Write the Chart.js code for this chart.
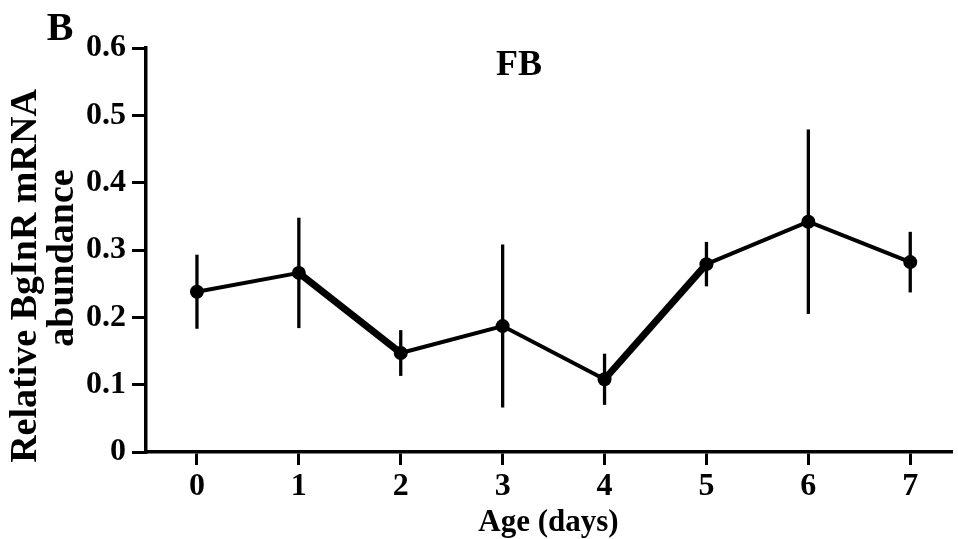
<!DOCTYPE html>
<html>
<head>
<meta charset="utf-8">
<script src="https://cdn.jsdelivr.net/npm/chart.js@4.4.1/dist/chart.umd.min.js"></script>
<style>
  body { margin: 0; background: #fff; }
  canvas { display: block; }
</style>
</head>
<body>
<canvas id="ageChart" width="958" height="539"></canvas>
<script>
const ages = [0, 1, 2, 3, 4, 5, 6, 7];
const abundance = [0.238, 0.266, 0.147, 0.187, 0.108, 0.279, 0.342, 0.282];
const sem = [0.055, 0.082, 0.034, 0.121, 0.038, 0.033, 0.137, 0.045];
const yTicks = [0, 0.1, 0.2, 0.3, 0.4, 0.5, 0.6];
const yTitleLines = ['Relative BgInR mRNA', 'abundance'];
const heavySegments = [1, 4]; // these two segments come out heavier in the figure

const serif = "'Liberation Serif', 'Times New Roman', serif";

// vertical SEM bars, no caps, drawn under the markers
const errorBars = {
  id: 'errorBars',
  beforeDatasetsDraw(chart) {
    const { ctx, scales: { x, y } } = chart;
    ctx.save();
    ctx.strokeStyle = '#000';
    ctx.lineWidth = 3.3;
    ages.forEach((age, i) => {
      const px = x.getPixelForValue(age);
      ctx.beginPath();
      ctx.moveTo(px, y.getPixelForValue(abundance[i] + sem[i]));
      ctx.lineTo(px, y.getPixelForValue(abundance[i] - sem[i]));
      ctx.stroke();
    });
    ctx.restore();
  }
};

// panel letter, tissue label and the two-line y title (second line sits a bit higher)
const panelText = {
  id: 'panelText',
  afterDraw(chart) {
    const { ctx } = chart;
    ctx.save();
    ctx.fillStyle = '#000';
    ctx.textAlign = 'center';
    ctx.textBaseline = 'middle';
    ctx.font = 'bold 40px ' + serif;
    ctx.fillText('B', 60, 30);
    ctx.font = 'bold 36px ' + serif;
    ctx.fillText('FB', 519, 66);

    ctx.font = 'bold 38px ' + serif;
    [[26, 276], [63, 258]].forEach(([cx, cy], i) => {
      ctx.save();
      ctx.translate(cx, cy);
      ctx.rotate(-Math.PI / 2);
      ctx.fillText(yTitleLines[i], 0, 0);
      ctx.restore();
    });
    ctx.restore();
  }
};

document.addEventListener('DOMContentLoaded', () => {
  const ctx = document.getElementById('ageChart');

  new Chart(ctx, {
    type: 'line',
    data: {
      datasets: [
        {
          label: 'FB',
          data: ages.map((a, i) => ({ x: a, y: abundance[i] })),
          borderColor: '#000',
          borderWidth: 4,
          pointRadius: 7,
          pointBackgroundColor: '#000',
          pointBorderWidth: 0,
          tension: 0,
          segment: {
            borderWidth: c => heavySegments.includes(c.p0DataIndex) ? 7 : 4,
          },
        },
      ],
    },
    options: {
      responsive: false,
      animation: false,
      layout: { padding: { top: 48, right: 3, left: 0, bottom: 0 } },
      plugins: {
        legend: { display: false },
        tooltip: { enabled: false },
      },
      scales: {
        x: {
          type: 'linear',
          min: -0.5,
          max: 7.4,
          afterBuildTicks: s => { s.ticks = ages.map(v => ({ value: v })); },
          afterFit: s => { s.height = 87; },
          ticks: {
            color: '#000',
            padding: 3,
            font: { family: serif, size: 32, weight: 'bold' },
            callback: v => String(v),
          },
          grid: {
            drawOnChartArea: false,
            drawTicks: true,
            tickLength: 13,
            lineWidth: 3,
            color: '#000',
          },
          border: { display: true, color: '#000', width: 3.5 },
          title: {
            display: true,
            text: 'Age (days)',
            color: '#000',
            padding: { top: 0, bottom: 1 },
            font: { family: serif, size: 31, weight: 'bold', lineHeight: 1 },
          },
        },
        y: {
          min: 0,
          max: 0.6,
          afterBuildTicks: s => { s.ticks = yTicks.map(v => ({ value: v })); },
          afterFit: s => { s.width = 146; },
          ticks: {
            color: '#000',
            padding: 6,
            font: { family: serif, size: 32, weight: 'bold' },
            callback: v => String(v),
          },
          grid: {
            drawOnChartArea: false,
            drawTicks: true,
            tickLength: 14,
            lineWidth: 3,
            color: '#000',
          },
          border: { display: true, color: '#000', width: 3.5 },
          title: { display: false },
        },
      },
    },
    plugins: [errorBars, panelText],
  });
});
</script>
</body>
</html>
